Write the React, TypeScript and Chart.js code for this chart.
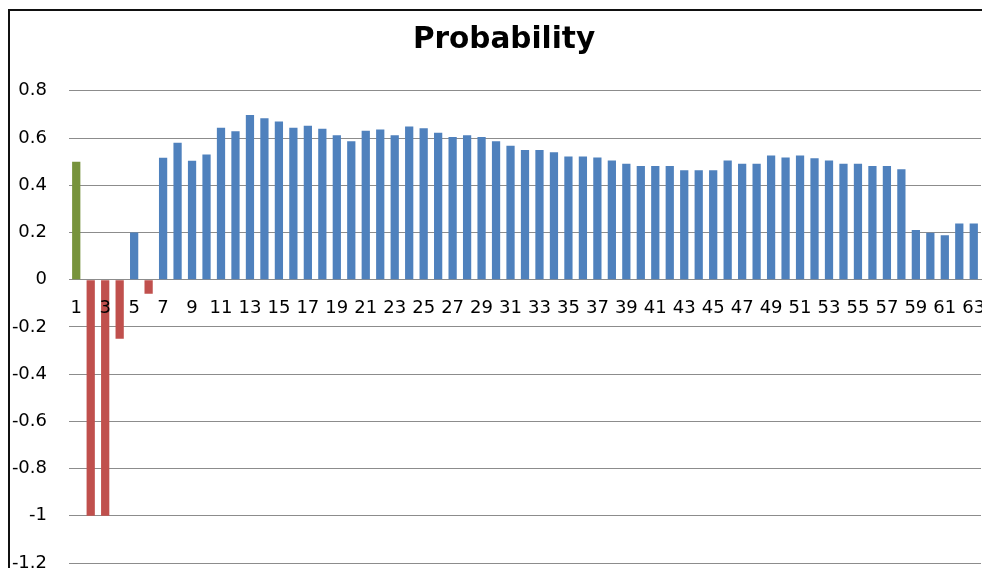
import React, { useEffect, useRef } from "react";
import { Chart, registerables } from "chart.js";

Chart.register(...registerables);

const TITLE = "Probability";

const categories = [
  "1", "2", "3", "4", "5", "6", "7", "8", "9", "10",
  "11", "12", "13", "14", "15", "16", "17", "18", "19", "20",
  "21", "22", "23", "24", "25", "26", "27", "28", "29", "30",
  "31", "32", "33", "34", "35", "36", "37", "38", "39", "40",
  "41", "42", "43", "44", "45", "46", "47", "48", "49", "50",
  "51", "52", "53", "54", "55", "56", "57", "58", "59", "60",
  "61", "62", "63",
];

const probability = [
  0.5, -1, -1, -0.25, 0.2, -0.06, 0.516, 0.58, 0.504, 0.53,
  0.643, 0.629, 0.697, 0.684, 0.67, 0.643, 0.652, 0.639, 0.612, 0.586,
  0.631, 0.636, 0.612, 0.649, 0.641, 0.622, 0.604, 0.612, 0.604, 0.586,
  0.567, 0.549, 0.549, 0.54, 0.522, 0.522, 0.518, 0.505, 0.491, 0.481,
  0.481, 0.481, 0.464, 0.464, 0.464, 0.505, 0.491, 0.491, 0.526, 0.518,
  0.526, 0.514, 0.505, 0.491, 0.491, 0.481, 0.481, 0.468, 0.21, 0.199,
  0.188, 0.238, 0.238,
];

const yMin = -1.2;
const yMax = 0.8;
const yStep = 0.2;

const BLUE = "#4F81BD";
const RED = "#C0504D";
const GREEN = "#77933C";
const GRID = "#8c8c8c";
const FONT = "'DejaVu Sans', sans-serif";

const titleShift = {
  id: "titleShift",
  afterLayout(chart: any) {
    if (chart.titleBlock) {
      chart.titleBlock.left = 17;
    }
  },
};

export default function App() {
  const canvasRef = useRef<HTMLCanvasElement | null>(null);

  useEffect(() => {
    if (!canvasRef.current) return;
    const colors = probability.map((v, i) => (i === 0 ? GREEN : v < 0 ? RED : BLUE));
    const chart = new Chart(canvasRef.current, {
      type: "bar",
      data: {
        labels: categories,
        datasets: [
          {
            label: TITLE,
            data: probability,
            backgroundColor: colors,
            borderWidth: 0,
            categoryPercentage: 1,
            barPercentage: 0.57,
          },
        ],
      },
      plugins: [titleShift],
      options: {
        animation: false,
        responsive: true,
        maintainAspectRatio: false,
        layout: { padding: { left: 0, right: 29, top: 0, bottom: 48 } },
        plugins: {
          legend: { display: false },
          tooltip: { enabled: false },
          title: {
            display: true,
            text: TITLE,
            color: "#000000",
            font: { family: FONT, size: 29.5, weight: "bold", lineHeight: 1.2 },
            padding: { top: 12, bottom: 32.4 },
          },
        },
        scales: {
          x: {
            position: { y: 0 },
            grid: { display: false, drawTicks: false },
            border: { display: true, color: GRID, width: 1 },
            ticks: {
              z: 1,
              autoSkip: false,
              maxRotation: 0,
              minRotation: 0,
              padding: 18,
              color: "#000000",
              font: { family: FONT, size: 18 },
              callback: (_v: any, i: number) => (i % 2 === 0 ? categories[i] : ""),
            },
          },
          y: {
            min: yMin,
            max: yMax,
            grid: { color: GRID, lineWidth: 1, drawTicks: false },
            border: { display: false },
            ticks: {
              stepSize: yStep,
              padding: 22,
              color: "#000000",
              font: { family: FONT, size: 18 },
              callback: (v: any) => String(Number(Number(v).toFixed(1))),
            },
            afterFit: (scale: any) => {
              scale.width = 59;
            },
          },
        },
      },
    });
    return () => chart.destroy();
  }, []);

  return (
    <div
      style={{
        position: "fixed",
        left: 0,
        top: 0,
        width: 982,
        height: 568,
        overflow: "hidden",
        background: "#ffffff",
      }}
    >
      <div
        style={{
          position: "absolute",
          left: 8,
          top: 9,
          width: 1100,
          height: 700,
          border: "2px solid #111111",
          background: "#ffffff",
        }}
      >
        <div style={{ position: "relative", width: 1000, height: 600 }}>
          <canvas ref={canvasRef} />
        </div>
      </div>
    </div>
  );
}
